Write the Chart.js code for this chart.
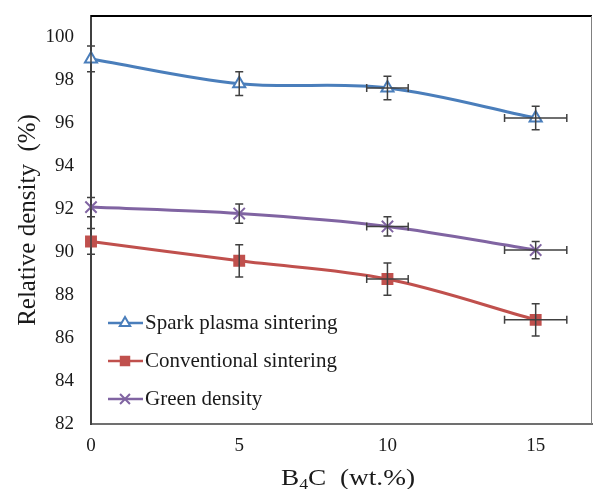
<!DOCTYPE html>
<html>
<head>
<meta charset="utf-8">
<script src="https://cdn.jsdelivr.net/npm/chart.js@4"></script>
<style>
  html, body { margin: 0; padding: 0; background: #fff; }
  #wrap { width: 602px; height: 489px; }
</style>
</head>
<body>
<div id="wrap"><canvas id="grafico" width="602" height="489"></canvas></div>
<script>
// dados
const teorB4C = [0, 5, 10, 15];
const erroX = [0, 0, 0.7, 1.05];

const sps = [99.0, 97.85, 97.65, 96.25];
const spsErro = [0.6, 0.55, 0.55, 0.55];

const convencional = [90.5, 89.6, 88.75, 86.85];
const convErro = [0.6, 0.75, 0.75, 0.75];

const verde = [92.1, 91.8, 91.2, 90.1];
const verdeErro = [0.45, 0.45, 0.45, 0.4];

const ticksY = [82, 84, 86, 88, 90, 92, 94, 96, 98, 100];
const ticksX = [0, 5, 10, 15];

const fonteSerif = '"Liberation Serif", "Times New Roman", serif';

function pontos(ys) {
  return teorB4C.map((x, i) => ({ x: x, y: ys[i] }));
}

const series = [
  { label: 'Spark plasma sintering', dados: sps, erros: spsErro, cor: '#4a7ebb', estilo: 'triangle', fundo: '#ffffff', raio: 7 },
  { label: 'Conventional sintering', dados: convencional, erros: convErro, cor: '#c0504d', estilo: 'rect', fundo: '#c0504d', raio: 7 },
  { label: 'Green density', dados: verde, erros: verdeErro, cor: '#8064a2', estilo: 'crossRot', fundo: '#8064a2', raio: 8 }
];

// barras de erro
const pluginErros = {
  id: 'barrasErro',
  afterDatasetsDraw(chart) {
    const ctx = chart.ctx;
    const sx = chart.scales.x;
    const sy = chart.scales.y;
    ctx.save();
    ctx.strokeStyle = '#404040';
    ctx.lineWidth = 1.5;
    const cap = 4;
    series.forEach(s => {
      s.dados.forEach((v, i) => {
        const px = sx.getPixelForValue(teorB4C[i]);
        const py = sy.getPixelForValue(v);
        const yTop = sy.getPixelForValue(v + s.erros[i]);
        const yBot = sy.getPixelForValue(v - s.erros[i]);
        ctx.beginPath();
        ctx.moveTo(px, yTop); ctx.lineTo(px, yBot);
        ctx.moveTo(px - cap, yTop); ctx.lineTo(px + cap, yTop);
        ctx.moveTo(px - cap, yBot); ctx.lineTo(px + cap, yBot);
        if (erroX[i] > 0) {
          const xl = sx.getPixelForValue(teorB4C[i] - erroX[i]);
          const xr = sx.getPixelForValue(teorB4C[i] + erroX[i]);
          ctx.moveTo(xl, py); ctx.lineTo(xr, py);
          ctx.moveTo(xl, py - cap); ctx.lineTo(xl, py + cap);
          ctx.moveTo(xr, py - cap); ctx.lineTo(xr, py + cap);
        }
        ctx.stroke();
      });
    });
    ctx.restore();
  }
};

// bordas, legenda e titulos
const pluginMoldura = {
  id: 'moldura',
  afterDraw(chart) {
    const ctx = chart.ctx;
    const a = chart.chartArea;
    ctx.save();
    ctx.strokeStyle = '#000';
    ctx.lineWidth = 2;
    ctx.beginPath();
    ctx.moveTo(a.left, a.top); ctx.lineTo(a.right, a.top);
    ctx.stroke();
    ctx.strokeStyle = '#808080';
    ctx.lineWidth = 1;
    ctx.beginPath();
    ctx.moveTo(a.right - 0.5, a.top); ctx.lineTo(a.right - 0.5, a.bottom);
    ctx.stroke();

    // legenda
    const ys = [323, 361, 399];
    series.forEach((s, i) => {
      const y = ys[i];
      ctx.strokeStyle = s.cor;
      ctx.lineWidth = 2.5;
      ctx.beginPath();
      ctx.moveTo(108, y); ctx.lineTo(143, y);
      ctx.stroke();
      ctx.fillStyle = s.fundo;
      ctx.lineWidth = 2;
      Chart.helpers.drawPoint(ctx, {
        pointStyle: s.estilo, radius: s.raio - 1, borderWidth: 2
      }, 125, y);
      ctx.font = '21px ' + fonteSerif;
      ctx.textBaseline = 'middle';
      ctx.textAlign = 'left';
      ctx.fillStyle = '#1a1a1a';
      ctx.fillText(s.label, 145, y);
    });

    // titulo eixo y
    ctx.save();
    ctx.translate(28, 220);
    ctx.rotate(-Math.PI / 2);
    ctx.font = '25px ' + fonteSerif;
    ctx.textAlign = 'center';
    ctx.textBaseline = 'middle';
    ctx.fillStyle = '#1a1a1a';
    ctx.fillText('Relative density  (%)', 0, 0);
    ctx.restore();

    // titulo eixo x com subscrito
    ctx.textBaseline = 'alphabetic';
    ctx.textAlign = 'left';
    ctx.fillStyle = '#1a1a1a';
    const parteB = 'B';
    const parte4 = '4';
    const resto = 'C  (wt.%)';
    ctx.font = '23px ' + fonteSerif;
    const wB = ctx.measureText(parteB).width;
    const wR = ctx.measureText(resto).width;
    ctx.font = '15px ' + fonteSerif;
    const w4 = ctx.measureText(parte4).width;
    const total = wB + w4 + wR;
    const escala = 134 / total;
    ctx.save();
    ctx.translate(281, 485);
    ctx.scale(escala, 1);
    ctx.font = '23px ' + fonteSerif;
    ctx.fillText(parteB, 0, 0);
    ctx.font = '15px ' + fonteSerif;
    ctx.fillText(parte4, wB, 4);
    ctx.font = '23px ' + fonteSerif;
    ctx.fillText(resto, wB + w4, 0);
    ctx.restore();
    ctx.restore();
  }
};

new Chart(document.getElementById('grafico'), {
  type: 'line',
  data: {
    datasets: series.map(s => ({
      label: s.label,
      data: pontos(s.dados),
      borderColor: s.cor,
      backgroundColor: s.fundo,
      borderWidth: 3,
      pointStyle: s.estilo,
      pointRadius: s.raio,
      pointBorderWidth: 2,
      pointBorderColor: s.cor,
      pointBackgroundColor: s.fundo,
      tension: 0.35,
      clip: false,
      fill: false
    }))
  },
  options: {
    responsive: false,
    animation: false,
    layout: { padding: { top: 16, right: 1, left: 0, bottom: 0 } },
    plugins: {
      legend: { display: false },
      tooltip: { enabled: false }
    },
    scales: {
      x: {
        type: 'linear',
        min: 0,
        max: 16.9,
        afterBuildTicks: s => { s.ticks = ticksX.map(v => ({ value: v })); },
        afterFit: s => { s.height = 65; s.paddingLeft = 0; s.paddingRight = 0; },
        grid: { display: false, drawTicks: true, tickLength: 5, tickColor: '#808080' },
        border: { display: true, color: '#707070', width: 2 },
        ticks: {
          color: '#1a1a1a',
          font: { family: fonteSerif, size: 19 },
          padding: 6,
          maxRotation: 0
        }
      },
      y: {
        min: 82,
        max: 101,
        afterBuildTicks: s => { s.ticks = ticksY.map(v => ({ value: v })); },
        afterFit: s => { s.width = 91; s.paddingTop = 0; s.paddingBottom = 0; },
        grid: { display: false, drawTicks: true, tickLength: 5, tickColor: '#404040' },
        border: { display: true, color: '#404040', width: 2 },
        ticks: {
          color: '#1a1a1a',
          font: { family: fonteSerif, size: 19 },
          padding: 12
        }
      }
    }
  },
  plugins: [pluginErros, pluginMoldura]
});
</script>
</body>
</html>
